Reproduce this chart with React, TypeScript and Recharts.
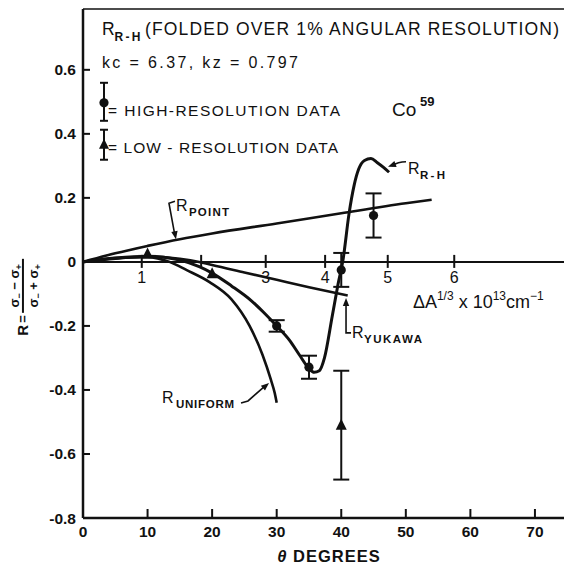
import React from 'react'
import {
  ComposedChart,
  Line,
  Scatter,
  ErrorBar,
  XAxis,
  YAxis,
  ReferenceLine,
  ReferenceDot,
} from 'recharts'

const W = 564
const H = 569
const FONT = '"Liberation Sans", Arial, sans-serif'
const INK = '#111'

// axes
const thetaTicks = [0, 10, 20, 30, 40, 50, 60, 70]
const rTicks = [-0.8, -0.6, -0.4, -0.2, 0, 0.2, 0.4, 0.6]

// second scale (ΔA^1/3 x 10^13 cm^-1) drawn along R = 0, placed at theta
const qTickTheta = [9.1, 18.3, 28.3, 37.5, 47.2, 57.5]
const qTickLabels = ['1', '', '3', '4', '5', '6']

// R_R-H (folded)
const rhTheta = [0, 5, 10, 15, 18, 20, 23, 26, 28, 30, 32, 33.5, 35, 35.8, 36.6, 37.4, 38.6, 39.5, 40.3, 41.2, 42, 42.7, 43.6, 44.6, 45.6, 46.5, 47.4]
const rhR = [0, 0.012, 0.018, 0.006, -0.015, -0.035, -0.075, -0.12, -0.158, -0.2, -0.245, -0.29, -0.333, -0.345, -0.34, -0.3, -0.17, -0.07, 0.01, 0.15, 0.24, 0.29, 0.317, 0.323, 0.31, 0.296, 0.28]

// R_UNIFORM
const uniTheta = [0, 5, 10, 13.4, 16, 19.6, 23, 25.8, 27.8, 29.1, 29.7, 30]
const uniR = [0, 0.012, 0.015, 0, -0.025, -0.063, -0.117, -0.2, -0.29, -0.368, -0.41, -0.44]

// R_YUKAWA
const yukTheta = [0, 5, 10, 15, 18, 20, 25, 30, 35, 41]
const yukR = [0, 0.01, 0.017, 0.01, 0, -0.01, -0.033, -0.056, -0.079, -0.105]

// R_POINT
const ptTheta = [0, 5, 10, 15, 20, 30, 40, 50, 54]
const ptR = [0, 0.027, 0.05, 0.071, 0.089, 0.12, 0.152, 0.183, 0.194]

// high-resolution data
const hiTheta = [30, 35, 40, 45]
const hiR = [-0.2, -0.329, -0.025, 0.145]
const hiErr = [0.018, 0.036, 0.053, 0.069]

// low-resolution data
const loTheta = [10, 20, 40]
const loR = [0.025, -0.037, -0.51]
const loErr = [0, 0, 0.17]

const zip = (t: number[], r: number[]) => t.map((v, i) => ({ t: v, r: r[i] }))
const rhData = zip(rhTheta, rhR)
const uniData = zip(uniTheta, uniR)
const yukData = zip(yukTheta, yukR)
const ptData = zip(ptTheta, ptR)
const hiData = hiTheta.map((t, i) => ({ t, r: hiR[i], err: hiErr[i] }))
const loData = loTheta.map((t, i) => ({ t, r: loR[i], err: loErr[i] }))

const txt = { fontFamily: FONT, fill: INK }

const Dot = (p: any) => <circle cx={p.cx} cy={p.cy} r={4.6} fill={INK} />
const Tri = (p: any) => (
  <polygon
    points={`${p.cx},${p.cy - 6.5} ${p.cx - 5.5},${p.cy + 4.5} ${p.cx + 5.5},${p.cy + 4.5}`}
    fill={INK}
  />
)

const head = (x: number, y: number, fx: number, fy: number) => {
  const a = Math.atan2(y - fy, x - fx)
  const L = 8
  const w = 3.2
  const bx = x - L * Math.cos(a)
  const by = y - L * Math.sin(a)
  const px = -Math.sin(a) * w
  const py = Math.cos(a) * w
  return <polygon points={`${x},${y} ${bx + px},${by + py} ${bx - px},${by - py}`} fill={INK} />
}

const XTick = (p: any) => {
  const { x, y, payload } = p
  return (
    <g>
      <line x1={x} y1={y} x2={x} y2={y - 9} stroke={INK} strokeWidth={2} />
      <text x={x} y={y + 19} textAnchor="middle" fontSize={15.5} fontWeight="bold" {...txt}>
        {payload.value}
      </text>
    </g>
  )
}

const YTick = (p: any) => {
  const { x, y, payload } = p
  const v = payload.value
  return (
    <g>
      <line x1={x} y1={y} x2={x + 7} y2={y} stroke={INK} strokeWidth={2} />
      <text x={x - 7} y={y + 5.5} textAnchor="end" fontSize={15.5} fontWeight="bold" {...txt}>
        {v === 0 ? '0' : v.toFixed(1)}
      </text>
    </g>
  )
}

const note = (key: string, t: number, r: number, draw: (x: number, y: number) => React.ReactElement) => (
  <ReferenceDot
    key={key}
    x={t}
    y={r}
    r={0}
    ifOverflow="visible"
    shape={(p: any) => draw(p.cx, p.cy)}
  />
)

// big R with a bold subscript
const sub = (x: number, y: number, s: string, dx: number, width: number) => (
  <g>
    <text x={x} y={y} fontSize={16} {...txt}>R</text>
    <text x={x + dx} y={y + 5} fontSize={11.5} fontWeight="bold" textLength={width} lengthAdjust="spacing" {...txt}>
      {s}
    </text>
  </g>
)

export default function App() {
  return (
    <div style={{ position: 'absolute', left: 0, top: 0, width: W, height: H, overflow: 'hidden', background: '#fff' }}>
      <ComposedChart width={W} height={H} margin={{ top: 9, right: 0, bottom: 21, left: 23 }}>
        <XAxis
          type="number"
          dataKey="t"
          domain={[0, 74.5]}
          ticks={thetaTicks}
          interval={0}
          allowDataOverflow
          height={30}
          tickSize={0}
          tickMargin={0}
          tickLine={false}
          axisLine={{ stroke: INK, strokeWidth: 2.5 }}
          tick={(p: any) => <XTick {...p} />}
        />
        <YAxis
          type="number"
          dataKey="r"
          domain={[-0.8, 0.79]}
          ticks={rTicks}
          interval={0}
          allowDataOverflow
          width={60}
          tickSize={0}
          tickMargin={0}
          tickLine={false}
          axisLine={{ stroke: INK, strokeWidth: 2.5 }}
          tick={(p: any) => <YTick {...p} />}
        />
        <ReferenceLine y={0.79} stroke={INK} strokeWidth={1.5} />
        <ReferenceLine y={0} stroke={INK} strokeWidth={2} />

        {qTickTheta.map((t, i) =>
          note(`q${i}`, t, 0, (x, y) => (
            <g>
              <line x1={x} y1={y - 7} x2={x} y2={y + 6} stroke={INK} strokeWidth={2} />
              <text x={x} y={y + 21} textAnchor="middle" fontSize={16} {...txt}>{qTickLabels[i]}</text>
            </g>
          ))
        )}

        <Line data={ptData} dataKey="r" type="monotone" stroke={INK} strokeWidth={2.6} dot={false} isAnimationActive={false} />
        <Line data={yukData} dataKey="r" type="monotone" stroke={INK} strokeWidth={2.6} dot={false} isAnimationActive={false} />
        <Line data={uniData} dataKey="r" type="monotone" stroke={INK} strokeWidth={2.6} dot={false} isAnimationActive={false} />
        <Line data={rhData} dataKey="r" type="monotone" stroke={INK} strokeWidth={3} dot={false} isAnimationActive={false} />

        <Scatter data={hiData} dataKey="r" shape={Dot} isAnimationActive={false}>
          <ErrorBar dataKey="err" direction="y" width={8} stroke={INK} strokeWidth={2} />
        </Scatter>
        <Scatter data={loData.filter((d) => d.err > 0)} dataKey="r" shape={Tri} isAnimationActive={false}>
          <ErrorBar dataKey="err" direction="y" width={8} stroke={INK} strokeWidth={2} />
        </Scatter>
        <Scatter data={loData.filter((d) => d.err === 0)} dataKey="r" shape={Tri} isAnimationActive={false} />

        {note('title', 2.94, 0.709, (x, y) => (
          <g>
            <text x={x} y={y} fontSize={17.5} {...txt}>R</text>
            <text x={x + 12.5} y={y + 6} fontSize={12} fontWeight="bold" textLength={26} lengthAdjust="spacing" {...txt}>R-H</text>
            <text x={x + 43} y={y} fontSize={17.5} textLength={414} lengthAdjust="spacing" {...txt}>
              (FOLDED OVER 1% ANGULAR RESOLUTION)
            </text>
          </g>
        ))}
        {note('kc', 2.94, 0.606, (x, y) => (
          <text x={x} y={y} fontSize={16} textLength={196} lengthAdjust="spacing" {...txt}>
            kc = 6.37, kz = 0.797
          </text>
        ))}
        {note('hiSym', 3.25, 0.497, (x, y) => (
          <g stroke={INK} strokeWidth={2}>
            <line x1={x} y1={y - 20} x2={x} y2={y + 18} />
            <line x1={x - 4} y1={y - 20} x2={x + 4} y2={y - 20} />
            <line x1={x - 4} y1={y + 18} x2={x + 4} y2={y + 18} />
            <circle cx={x} cy={y} r={4.6} fill={INK} stroke="none" />
          </g>
        ))}
        {note('hiTxt', 3.87, 0.456, (x, y) => (
          <text x={x} y={y} fontSize={15.5} textLength={232} lengthAdjust="spacing" {...txt}>
            = HIGH-RESOLUTION  DATA
          </text>
        ))}
        {note('co', 47.86, 0.456, (x, y) => (
          <g>
            <text x={x} y={y} fontSize={19} {...txt}>Co</text>
            <text x={x + 28} y={y - 10} fontSize={13} fontWeight="bold" {...txt}>59</text>
          </g>
        ))}
        {note('loSym', 3.25, 0.366, (x, y) => (
          <g stroke={INK} strokeWidth={2}>
            <line x1={x} y1={y - 15} x2={x} y2={y + 15} />
            <line x1={x - 4} y1={y - 15} x2={x + 4} y2={y - 15} />
            <line x1={x - 4} y1={y + 15} x2={x + 4} y2={y + 15} />
            <polygon points={`${x},${y - 6} ${x - 5},${y + 4} ${x + 5},${y + 4}`} fill={INK} stroke="none" />
          </g>
        ))}
        {note('loTxt', 3.87, 0.341, (x, y) => (
          <text x={x} y={y} fontSize={15.5} textLength={230} lengthAdjust="spacing" {...txt}>
            = LOW - RESOLUTION  DATA
          </text>
        ))}

        {note('rhLab', 50.34, 0.275, (x, y) => sub(x, y, 'R-H', 12, 25))}
        {note('rhArr', 47.24, 0.297, (x, y) => (
          <g>
            <path d={`M${x + 4},${y - 1} Q${x + 10},${y - 5} ${x + 18},${y - 5}`} stroke={INK} strokeWidth={1.6} fill="none" />
            {head(x, y, x + 8, y - 3)}
          </g>
        ))}

        {note('ptLab', 14.4, 0.159, (x, y) => sub(x, y, 'POINT', 13, 40))}
        {note('ptArr', 14.4, 0.071, (x, y) => (
          <g>
            <polyline points={`${x - 1},${y - 38} ${x - 7},${y - 36} ${x - 1.5},${y - 6}`} stroke={INK} strokeWidth={1.6} fill="none" />
            {head(x, y, x - 7, y - 36)}
          </g>
        ))}

        {note('yukLab', 41.67, -0.2375, (x, y) => sub(x, y, 'YUKAWA', 12, 58))}
        {note('yukArr', 40.74, -0.1125, (x, y) => (
          <g>
            <polyline points={`${x},${y + 6} ${x},${y + 35} ${x + 5},${y + 35}`} stroke={INK} strokeWidth={1.6} fill="none" />
            {head(x, y, x, y + 10)}
          </g>
        ))}

        {note('uniLab', 12.24, -0.44, (x, y) => sub(x, y, 'UNIFORM', 14, 58))}
        {note('uniArr', 28.81, -0.378, (x, y) => (
          <g>
            <polyline points={`${x - 5},${y + 4} ${x - 21},${y + 18} ${x - 28},${y + 20}`} stroke={INK} strokeWidth={1.6} fill="none" />
            {head(x, y, x - 21, y + 18)}
          </g>
        ))}

        {note('qLab', 51.1, -0.144, (x, y) => (
          <text x={x} y={y} fontSize={18} {...txt}>
            ΔA
            <tspan dy={-8} fontSize={12}>1/3</tspan>
            <tspan dy={8} fontSize={18}> x 10</tspan>
            <tspan dy={-8} fontSize={12}>13</tspan>
            <tspan dy={8} fontSize={18}>cm</tspan>
            <tspan dy={-8} fontSize={12}>−1</tspan>
          </text>
        ))}

        {note('xTitle', 38.1, -0.9375, (x, y) => (
          <text x={x} y={y} textAnchor="middle" fontSize={16.5} fontWeight="bold" letterSpacing={1} {...txt}>
            <tspan fontStyle="italic">θ</tspan> DEGREES
          </text>
        ))}

        {note('yTitle', -9.3, -0.106, (x, y) => (
          <g transform={`translate(${x},${y}) rotate(-90)`}>
            <text x={-40} y={5} fontSize={15} fontWeight="bold" {...txt}>R</text>
            <text x={-27} y={4} fontSize={13} fontWeight="bold" {...txt}>=</text>
            <line x1={-17} y1={0} x2={37} y2={0} stroke={INK} strokeWidth={2} />
            <text x={10} y={-4} textAnchor="middle" fontSize={13} fontWeight="bold" {...txt}>
              σ<tspan dy={3} fontSize={9}>−</tspan>
              <tspan dy={-3}> − σ</tspan>
              <tspan dy={3} fontSize={9}>+</tspan>
            </text>
            <text x={10} y={15} textAnchor="middle" fontSize={13} fontWeight="bold" {...txt}>
              σ<tspan dy={3} fontSize={9}>−</tspan>
              <tspan dy={-3}> + σ</tspan>
              <tspan dy={3} fontSize={9}>+</tspan>
            </text>
          </g>
        ))}
      </ComposedChart>
    </div>
  )
}
